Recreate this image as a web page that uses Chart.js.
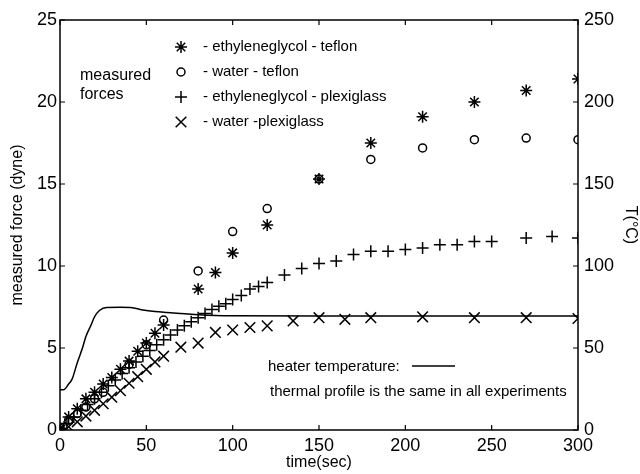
<!DOCTYPE html>
<html lang="en">
<head>
    <meta charset="UTF-8">
    <title>measured forces</title>
    <script src="https://cdn.jsdelivr.net/npm/chart.js"></script>
    <style>
        body { margin: 0; background: #fff; }
        canvas { display: block; }
    </style>
</head>
<body>
    <canvas id="forceChart" width="640" height="474"></canvas>
    <script>
        // ethyleneglycol - teflon (asterisks)
        const timeEgTeflon = [0, 5, 10, 15, 20, 25, 30, 35, 40, 45, 50, 55, 60, 80, 90, 100, 120, 150, 180, 210, 240, 270, 300];
        const forceEgTeflon = [0.1, 0.8, 1.3, 1.9, 2.3, 2.8, 3.2, 3.7, 4.2, 4.8, 5.3, 5.9, 6.4, 8.6, 9.6, 10.8, 12.5, 15.3, 17.5, 19.1, 20.0, 20.7, 21.4];

        // water - teflon (circles)
        const timeWaterTeflon = [0, 5, 10, 15, 20, 25, 40, 50, 60, 80, 100, 120, 150, 180, 210, 240, 270, 300];
        const forceWaterTeflon = [0.1, 0.6, 1.0, 1.4, 1.9, 2.3, 4.0, 5.2, 6.7, 9.7, 12.1, 13.5, 15.3, 16.5, 17.2, 17.7, 17.8, 17.7];

        // ethyleneglycol - plexiglass (plus)
        const timeEgPlexi = [0, 4, 8, 12, 16, 20, 24, 28, 32, 36, 40, 44, 48, 52, 56, 60, 64, 68, 72, 76, 80, 84, 88, 92, 96, 100, 105, 110, 115, 120, 130, 140, 150, 160, 170, 180, 190, 200, 210, 220, 230, 240, 250, 270, 285, 300];
        const forceEgPlexi = [0.0, 0.4, 0.8, 1.2, 1.55, 1.9, 2.3, 2.7, 3.05, 3.45, 3.8, 4.15, 4.5, 4.85, 5.2, 5.5, 5.8, 6.1, 6.35, 6.6, 6.85, 7.1, 7.35, 7.55, 7.7, 7.95, 8.2, 8.6, 8.75, 9.0, 9.45, 9.85, 10.15, 10.3, 10.7, 10.9, 10.9, 11.0, 11.1, 11.3, 11.3, 11.5, 11.5, 11.7, 11.8, 11.7];

        // water - plexiglass (x)
        const timeWaterPlexi = [0, 5, 10, 15, 20, 25, 30, 35, 40, 45, 50, 55, 60, 70, 80, 90, 100, 110, 120, 135, 150, 165, 180, 210, 240, 270, 300];
        const forceWaterPlexi = [0.0, 0.2, 0.5, 0.85, 1.2, 1.6, 2.0, 2.4, 2.85, 3.25, 3.7, 4.15, 4.5, 5.05, 5.3, 5.95, 6.1, 6.25, 6.35, 6.65, 6.85, 6.75, 6.85, 6.9, 6.85, 6.85, 6.8];

        // heater temperature (right axis, °C)
        const timeHeater = [0, 2, 5, 7, 10, 13, 15, 18, 20, 23, 27, 35, 42, 48, 55, 62, 70, 80, 90, 100, 150, 200, 250, 300];
        const tempHeater = [24.5, 24.5, 28, 31, 41, 50, 57, 64, 69, 73, 74.7, 74.8, 74.6, 73.2, 72.2, 71.6, 71.0, 70.3, 69.8, 69.6, 69.5, 69.5, 69.5, 69.5];

        const xTicks = [0, 50, 100, 150, 200, 250, 300];
        const forceTicks = [0, 5, 10, 15, 20, 25];
        const tempTicks = [0, 50, 100, 150, 200, 250];

        const FONT = "'Liberation Sans', Arial, sans-serif";

        function toPoints(xs, ys) {
            return xs.map((v, i) => ({ x: v, y: ys[i] }));
        }

        function markerSet(label, xs, ys, style, r) {
            return {
                label: label,
                data: toPoints(xs, ys),
                pointStyle: style,
                pointRadius: r,
                pointBorderWidth: 1.5,
                borderColor: '#000',
                backgroundColor: 'rgba(0,0,0,0)',
                showLine: false,
                yAxisID: 'y'
            };
        }

        // inward ticks, frame, in-plot legend and notes
        const decor = {
            id: 'decor',
            afterDraw(chart) {
                const ctx = chart.ctx;
                const a = chart.chartArea;
                const sx = chart.scales.x, sy = chart.scales.y, sy2 = chart.scales.y2;
                ctx.save();
                ctx.strokeStyle = '#000';
                ctx.lineWidth = 1.2;
                ctx.beginPath();
                xTicks.forEach(v => {
                    const p = sx.getPixelForValue(v);
                    ctx.moveTo(p, a.bottom); ctx.lineTo(p, a.bottom - 5);
                    ctx.moveTo(p, a.top); ctx.lineTo(p, a.top + 5);
                });
                forceTicks.forEach(v => {
                    const p = sy.getPixelForValue(v);
                    ctx.moveTo(a.left, p); ctx.lineTo(a.left + 5, p);
                });
                tempTicks.forEach(v => {
                    const p = sy2.getPixelForValue(v);
                    ctx.moveTo(a.right, p); ctx.lineTo(a.right - 5, p);
                });
                ctx.stroke();
                ctx.lineWidth = 1.5;
                ctx.strokeRect(a.left, a.top, a.width, a.height);

                // legend
                ctx.fillStyle = '#000';
                ctx.font = '16px ' + FONT;
                ctx.textBaseline = 'middle';
                ctx.fillText('measured', 80, 76);
                ctx.fillText('forces', 80, 95);

                ctx.font = '15px ' + FONT;
                const items = chart.data.datasets.slice(0, 4);
                const rows = [47, 72, 97, 122];
                items.forEach((ds, i) => {
                    ctx.lineWidth = 1.5;
                    ctx.fillStyle = '#fff';
                    Chart.helpers.drawPoint(ctx, { pointStyle: ds.pointStyle, radius: ds.pointRadius, borderWidth: 1.5 }, 181, rows[i]);
                    ctx.fillStyle = '#000';
                    ctx.fillText(ds.label, 203, rows[i]);
                });

                ctx.fillText('heater temperature:', 268, 367);
                ctx.lineWidth = 1.5;
                ctx.beginPath();
                ctx.moveTo(412, 366); ctx.lineTo(455, 366);
                ctx.stroke();
                ctx.fillText('thermal profile is the same in all experiments', 270, 392);
                ctx.restore();
            }
        };

        new Chart(document.getElementById('forceChart'), {
            type: 'scatter',
            data: {
                datasets: [
                    markerSet('- ethyleneglycol - teflon', timeEgTeflon, forceEgTeflon, 'star', 6),
                    markerSet('- water - teflon', timeWaterTeflon, forceWaterTeflon, 'circle', 4),
                    markerSet('- ethyleneglycol - plexiglass', timeEgPlexi, forceEgPlexi, 'cross', 6),
                    markerSet('- water -plexiglass', timeWaterPlexi, forceWaterPlexi, 'crossRot', 7.5),
                    {
                        label: 'heater temperature',
                        data: toPoints(timeHeater, tempHeater),
                        showLine: true,
                        pointRadius: 0,
                        borderColor: '#000',
                        borderWidth: 1.5,
                        cubicInterpolationMode: 'monotone',
                        yAxisID: 'y2'
                    }
                ]
            },
            options: {
                responsive: false,
                animation: false,
                devicePixelRatio: 1,
                layout: { padding: { top: 20, left: 0, right: 0, bottom: 0 } },
                plugins: { legend: { display: false }, tooltip: { enabled: false } },
                scales: {
                    x: {
                        type: 'linear',
                        min: 0, max: 300,
                        afterFit: s => { s.height = 44; },
                        afterBuildTicks: s => { s.ticks = xTicks.map(v => ({ value: v })); },
                        grid: { display: false, drawTicks: false },
                        border: { display: false },
                        ticks: { color: '#000', font: { family: FONT, size: 18 }, padding: 5, maxRotation: 0 },
                        title: { display: true, text: 'time(sec)', color: '#000', font: { family: FONT, size: 16 }, padding: { top: 0, bottom: 2 } }
                    },
                    y: {
                        position: 'left',
                        min: 0, max: 25,
                        afterFit: s => { s.width = 60; },
                        afterBuildTicks: s => { s.ticks = forceTicks.map(v => ({ value: v })); },
                        grid: { display: false, drawTicks: false },
                        border: { display: false },
                        ticks: { color: '#000', font: { family: FONT, size: 18 }, padding: 3 },
                        title: { display: true, text: 'measured force (dyne)', color: '#000', font: { family: FONT, size: 16 }, padding: { top: 8, bottom: 0 } }
                    },
                    y2: {
                        position: 'right',
                        min: 0, max: 250,
                        afterFit: s => { s.width = 62; },
                        afterBuildTicks: s => { s.ticks = tempTicks.map(v => ({ value: v })); },
                        grid: { display: false, drawTicks: false },
                        border: { display: false },
                        ticks: { color: '#000', font: { family: FONT, size: 18 }, padding: 6 },
                        title: { display: true, text: 'T(°C)', color: '#000', font: { family: FONT, size: 16 }, padding: { top: 0, bottom: 0 } }
                    }
                }
            },
            plugins: [decor]
        });
    </script>
</body>
</html>
